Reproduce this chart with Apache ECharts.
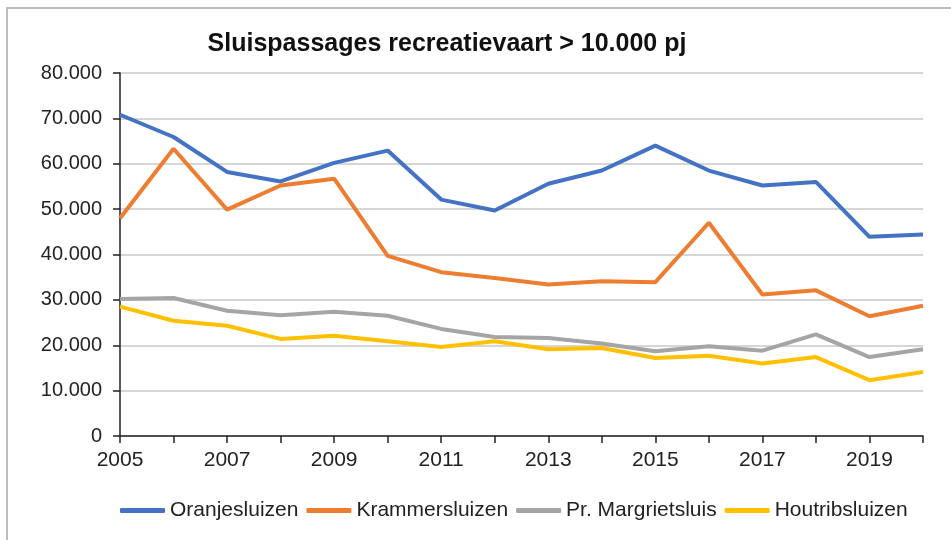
<!DOCTYPE html>
<html>
<head>
<meta charset="utf-8">
<script src="https://cdn.jsdelivr.net/npm/echarts@6/dist/echarts.min.js"></script>
<style>
  html, body { margin: 0; padding: 0; background: #fff; }
  #chart { width: 951px; height: 540px; }
</style>
</head>
<body>
<div id="chart"></div>
<script>
// years on the x axis
const years = ['2005','2006','2007','2008','2009','2010','2011','2012','2013','2014','2015','2016','2017','2018','2019','2020'];

// lock passages per year
const oranjesluizen = [70800, 65900, 58200, 56100, 60200, 62900, 52100, 49700, 55600, 58500, 64000, 58500, 55200, 56000, 43900, 44400];
const krammersluizen = [48000, 63300, 49900, 55200, 56700, 39700, 36100, 34800, 33400, 34100, 33900, 47000, 31200, 32100, 26400, 28700];
const margrietsluis = [30200, 30400, 27600, 26600, 27400, 26500, 23600, 21800, 21600, 20400, 18700, 19800, 18800, 22400, 17400, 19100];
const houtribsluizen = [28500, 25400, 24300, 21400, 22100, 20900, 19600, 20900, 19100, 19400, 17200, 17700, 16000, 17400, 12300, 14100];

const font = 'Liberation Sans, Arial, sans-serif';

function dots(v) {
  return String(v).replace(/\B(?=(\d{3})+(?!\d))/g, '.');
}

function line(name, data, color) {
  return {
    name: name,
    type: 'line',
    data: data,
    symbol: 'none',
    lineStyle: { color: color, width: 4 },
    itemStyle: { color: color }
  };
}

const chart = echarts.init(document.getElementById('chart'));
chart.setOption({
  animation: false,
  backgroundColor: '#fff',
  graphic: [{
    type: 'rect',
    shape: { x: 7, y: 8, width: 1000, height: 600 },
    style: { fill: 'none', stroke: '#bdbdbd', lineWidth: 2 },
    silent: true
  }],
  title: {
    text: 'Sluispassages recreatievaart > 10.000 pj',
    left: 442,
    textAlign: 'center',
    top: 27,
    textStyle: { fontFamily: font, fontSize: 25, fontWeight: 'bold', color: '#111' }
  },
  legend: {
    top: 495,
    left: 115,
    itemWidth: 45,
    itemHeight: 5,
    itemGap: 8,
    icon: 'roundRect',
    textStyle: { fontFamily: font, fontSize: 21, color: '#222' },
    data: ['Oranjesluizen', 'Krammersluizen', 'Pr. Margrietsluis', 'Houtribsluizen']
  },
  grid: { left: 120, right: 28, top: 73, bottom: 104 },
  xAxis: {
    type: 'category',
    data: years,
    boundaryGap: false,
    axisLine: { lineStyle: { color: '#222', width: 1.5 } },
    axisTick: { show: true, interval: 0, length: 7, lineStyle: { color: '#222', width: 1.5 } },
    axisLabel: { interval: 1, margin: 14, fontFamily: font, fontSize: 21, color: '#222' },
    splitLine: { show: false }
  },
  yAxis: {
    type: 'value',
    min: 0,
    max: 80000,
    interval: 10000,
    axisLine: { show: true, lineStyle: { color: '#222', width: 1.5 } },
    axisTick: { show: true, length: 7, lineStyle: { color: '#222', width: 1.5 } },
    axisLabel: { margin: 18, fontFamily: font, fontSize: 20, color: '#222', formatter: dots },
    splitLine: { lineStyle: { color: '#c8c8c8', width: 1.5 } }
  },
  series: [
    line('Oranjesluizen', oranjesluizen, '#4472C4'),
    line('Krammersluizen', krammersluizen, '#ED7D31'),
    line('Pr. Margrietsluis', margrietsluis, '#A5A5A5'),
    line('Houtribsluizen', houtribsluizen, '#FFC000')
  ]
});
</script>
</body>
</html>
